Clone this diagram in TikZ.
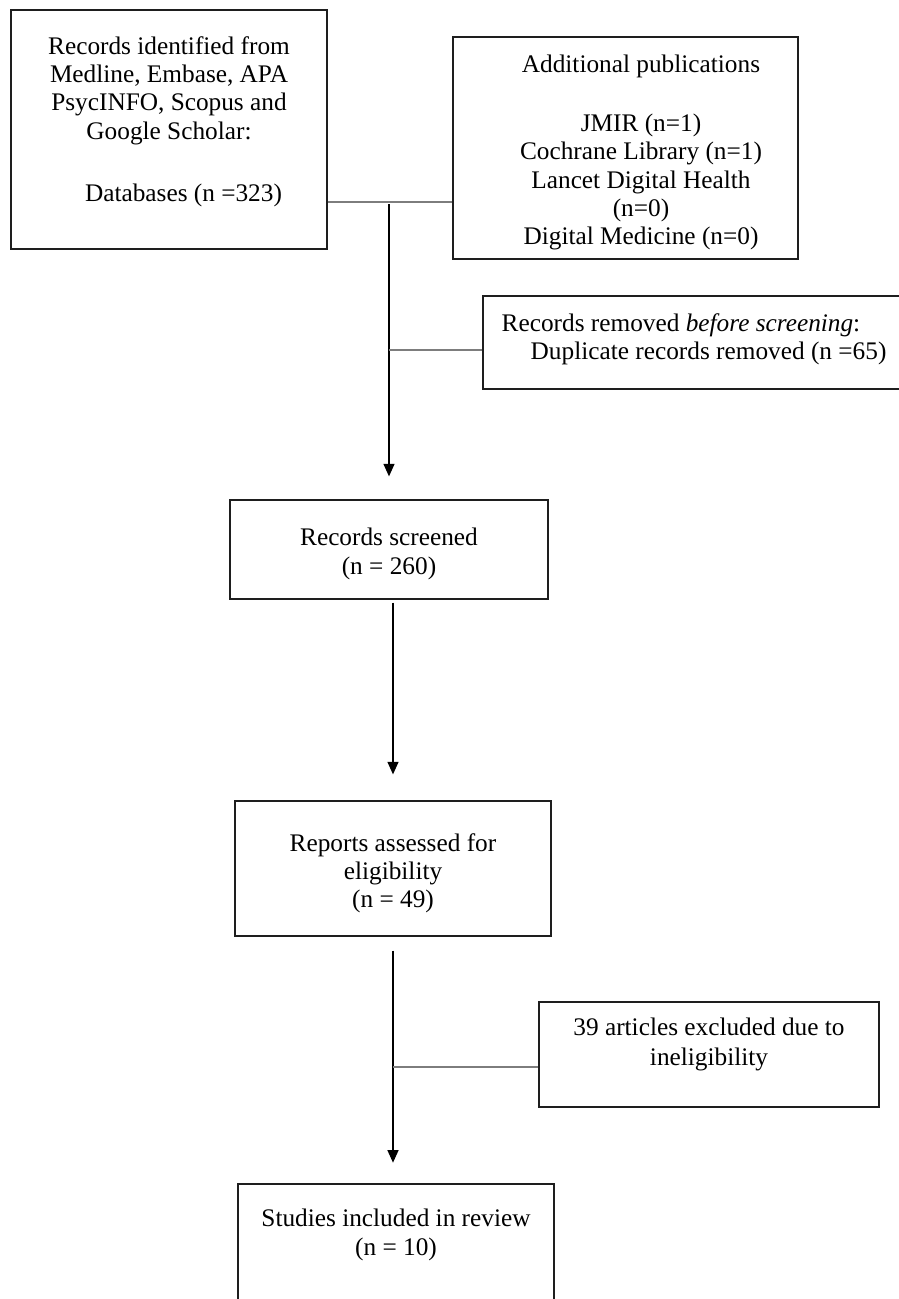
\documentclass[tikz,border=0pt]{standalone}
\usepackage{fontspec}
\setmainfont{Liberation Serif}
\usetikzlibrary{arrows.meta,positioning,calc}
\definecolor{fcInk} {RGB}{ 30, 30, 30}
\definecolor{fcGrey}{RGB}{125,125,125}

\begin{document}
\begin{tikzpicture}[
  x=0.02cm,y=-0.02cm,
  font=\fontsize{14.4}{16.2}\selectfont,
  box/.style={rectangle,draw=fcInk,line width=0.75pt,fill=white,inner sep=0pt},
  txt/.style={inner sep=0pt,align=center,anchor=north,text=black},
  link/.style={draw=fcGrey,line width=0.6pt},
  flow/.style={draw=black,line width=0.7pt,-{Triangle[width=2.2mm,length=2.5mm]}}
]
\useasboundingbox (0,0) rectangle (899,1299);
\clip (0,0) rectangle (899,1299);

% --- Identification
\node[box,minimum width=6.32cm,minimum height=4.78cm] (ident) at (169,129.5) {};
\node[txt] (identT) at ([yshift=-0.53cm] ident.north)
     {Records identified from\\Medline, Embase, APA\\PsycINFO, Scopus and\\Google Scholar:\\[19pt]
      \hspace*{0.58cm}Databases (n =323)};
\node[box,minimum width=6.9cm,minimum height=4.44cm] (addl) at (625.5,148) {};
\node[txt] (addlT) at ([xshift=0.31cm,yshift=-0.37cm] addl.north)
     {Additional publications\\[17pt]JMIR (n=1)\\Cochrane Library (n=1)\\Lancet Digital Health\\(n=0)\\Digital Medicine (n=0)};
\node[box,minimum width=8.54cm,minimum height=1.86cm] (removed) at (696.5,342.5) {};
\node[txt,align=left,anchor=north west] (removedT) at ([xshift=0.38cm,yshift=-0.35cm] removed.north west)
     {Records removed \textit{before screening}:\\\hspace*{0.58cm}Duplicate records removed (n =65)};

% --- Screening
\node[box,minimum width=6.36cm,minimum height=1.98cm] (screen) at (389,549.5) {};
\node[txt] (screenT) at ([yshift=-0.57cm] screen.north) {Records screened\\(n = 260)};
\node[box,minimum width=6.32cm,minimum height=2.7cm] (reports) at (393,868.5) {};
\node[txt] (reportsT) at ([yshift=-0.65cm] reports.north) {Reports assessed for\\eligibility\\(n = 49)};
\node[box,minimum width=6.8cm,minimum height=2.1cm] (excluded) at (709,1054.5) {};
\node[txt] (excludedT) at ([yshift=-0.33cm] excluded.north) {39 articles excluded due to\\[1pt]ineligibility};

% --- Included
\node[box,minimum width=6.32cm,minimum height=2.72cm] (included) at (396,1252) {};
\node[txt] (includedT) at ([yshift=-0.51cm] included.north) {Studies included in review\\(n = 10)};

% --- connectors
\coordinate (trunk) at (389,202);
\coordinate (rmJoin) at ($(removed.west)+(0,7.5)$);
\coordinate (exJoin) at ($(excluded.west)+(0,12.5)$);
\draw[link] (ident.east |- trunk) -- (addl.west |- trunk);
\draw[flow] ($(trunk)+(0,2)$) -- ($(screen.north)+(0,-23)$);
\draw[link] (trunk |- rmJoin) -- (rmJoin);
\draw[flow] ($(reports.north |- screen.south)+(0,3)$) -- ($(reports.north)+(0,-26)$);
\draw[flow] ($(reports.south)+(0,14)$) -- ($(reports.south)+(0,226)$);
\draw[link] (reports.south |- exJoin) -- (exJoin);
\end{tikzpicture}
\end{document}
